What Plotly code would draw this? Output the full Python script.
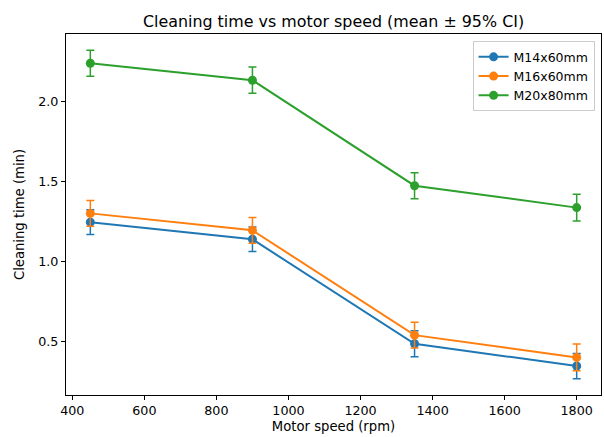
import plotly.graph_objects as go

speeds = [450, 900, 1350, 1800]
series_names = ["M14x60mm", "M16x60mm", "M20x80mm"]
m14_mean = [1.247, 1.140, 0.487, 0.348]
m14_ci = [0.077, 0.077, 0.081, 0.079]
m16_mean = [1.302, 1.196, 0.541, 0.402]
m16_ci = [0.081, 0.081, 0.080, 0.083]
m20_mean = [2.240, 2.134, 1.475, 1.338]
m20_ci = [0.081, 0.082, 0.081, 0.083]
colors = ["#1f77b4", "#ff7f0e", "#2ca02c"]

means = [m14_mean, m16_mean, m20_mean]
cis = [m14_ci, m16_ci, m20_ci]

fig = go.Figure()
for name, m, c, col in zip(series_names, means, cis, colors):
    fig.add_trace(go.Scatter(
        x=speeds, y=m, name=name, mode="lines+markers",
        line=dict(color=col, width=2),
        marker=dict(color=col, size=9),
        error_y=dict(type="data", array=c, visible=True, color=col,
                     thickness=1.5, width=4),
    ))

font = "DejaVu Sans, sans-serif"
fig.update_layout(
    width=604, height=437,
    margin=dict(l=66, r=3, t=34, b=42),
    paper_bgcolor="white", plot_bgcolor="white",
    font=dict(family=font, size=12.7, color="black"),
    title=dict(text="Cleaning time vs motor speed (mean ± 95% CI)",
               x=0.5, xref="paper", xanchor="center",
               y=1 - 21 / 437, yanchor="middle",
               font=dict(size=15.9)),
    showlegend=True,
    legend=dict(x=0.988, y=0.98, xanchor="right", yanchor="top",
                bordercolor="#cccccc", borderwidth=1, bgcolor="rgba(255,255,255,0.8)",
                font=dict(size=12.5), tracegroupgap=0),
)
fig.update_xaxes(
    range=[382.5, 1867.5], tickvals=[400, 600, 800, 1000, 1200, 1400, 1600, 1800],
    showline=True, linecolor="black", linewidth=1, mirror=True,
    ticks="outside", ticklen=4, tickcolor="black", showgrid=False, zeroline=False,
    title=dict(text="Motor speed (rpm)", standoff=4, font=dict(size=13.2)),
)
fig.update_yaxes(
    range=[0.167, 2.423], tickvals=[0.5, 1.0, 1.5, 2.0], tickformat=".1f",
    showline=True, linecolor="black", linewidth=1, mirror=True,
    ticks="outside", ticklen=4, tickcolor="black", showgrid=False, zeroline=False,
    title=dict(text="Cleaning time (min)", standoff=10, font=dict(size=13.2)),
)
fig.write_html("out.html", config={"displayModeBar": False},
               post_script="document.body.style.margin='0';document.body.style.overflow='hidden';")
